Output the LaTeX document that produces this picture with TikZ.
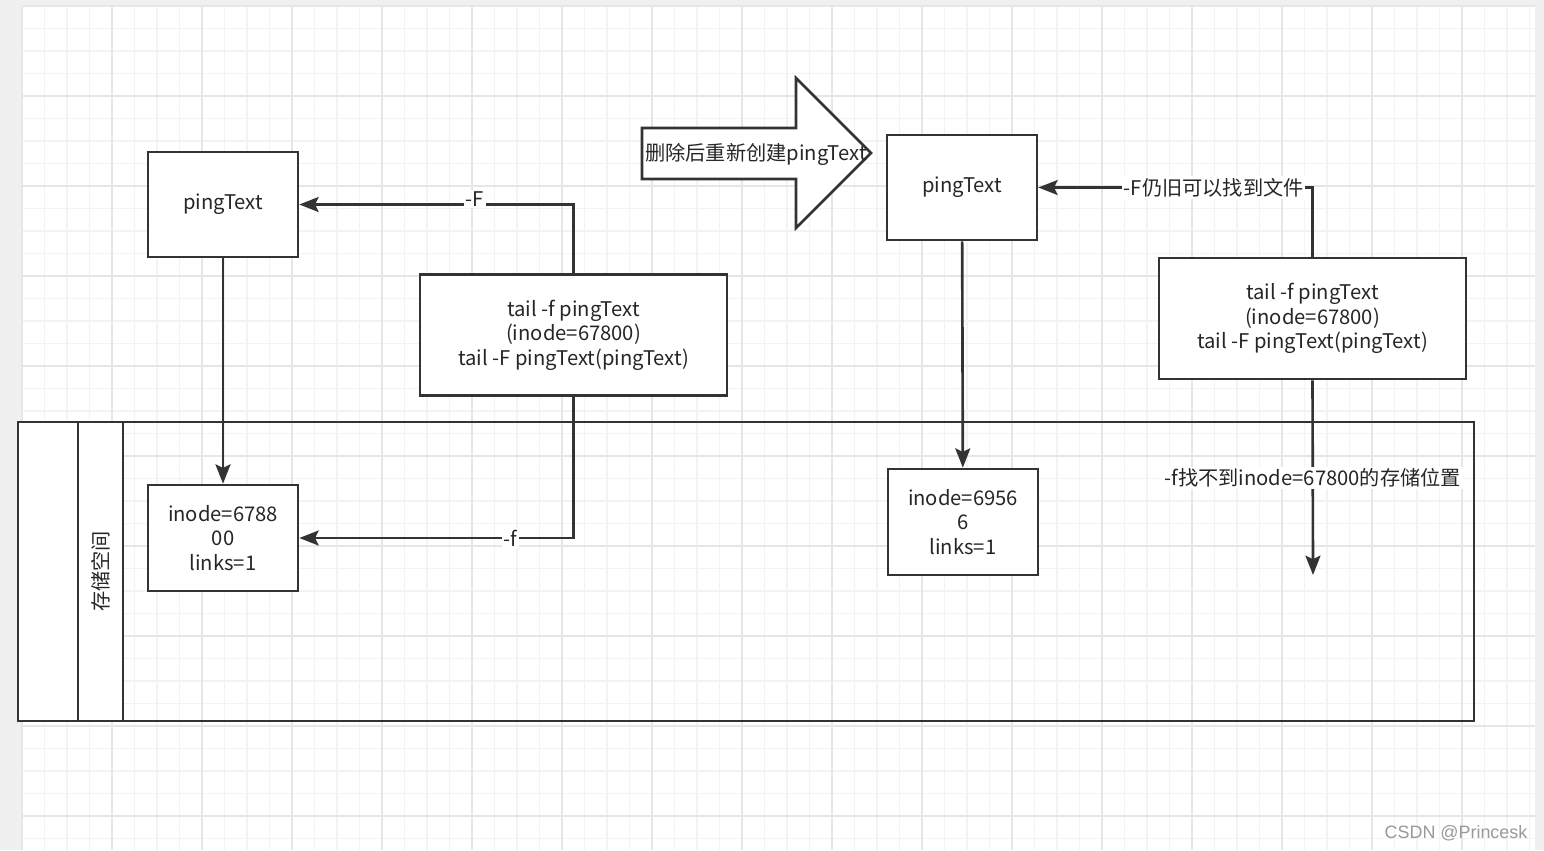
\documentclass[tikz,border=0pt]{standalone}
\usepackage{fontspec}
\setmainfont{Noto Sans CJK SC}
\newfontfamily\wmfont{Liberation Sans}
\usepackage{tikz}
\usetikzlibrary{arrows.meta}

\definecolor{linegray}{HTML}{333333}
\definecolor{outergray}{HTML}{F0F0F0}
\definecolor{minorgrid}{HTML}{F3F3F3}
\definecolor{majorgrid}{HTML}{E6E6E6}

\begin{document}
\begin{tikzpicture}[x=0.02cm, y=-0.02cm,
		every node/.style={font=\fontsize{11.5}{14}\selectfont, text=black!85},
		box/.style={draw=linegray, line width=1.5pt, fill=white, align=center, minimum width=3cm, minimum height=2.1cm},
		cmdbox/.style={box, minimum width=6.14cm, minimum height=2.42cm},
		conn/.style={draw=linegray, line width=1.5pt, -{Stealth[length=11pt, width=8.5pt, inset=2pt]}},
		lbl/.style={fill=white, inner sep=1pt}]
			\useasboundingbox (0,0) rectangle (1544,850);
			\fill[outergray] (0,0) rectangle (1544,850);
			\fill[white] (22,6) rectangle (1535,850);
			% grid
			\foreach \i in {0,...,67}
				\draw[minorgrid, line width=0.7pt] ({22+22.5*\i},6) -- ({22+22.5*\i},850);
			\foreach \j in {0,...,37}
				\draw[minorgrid, line width=0.7pt] (22,{6+22.5*\j}) -- (1535,{6+22.5*\j});
			\foreach \i in {0,...,16}
				\draw[majorgrid, line width=0.7pt] ({22+90*\i},6) -- ({22+90*\i},850);
			\foreach \j in {0,...,9}
				\draw[majorgrid, line width=0.7pt] (22,{6+90*\j}) -- (1535,{6+90*\j});

			% storage pool
			\draw[linegray, line width=1.5pt] (18,422) rectangle (1474,721);
			\filldraw[fill=white, draw=linegray, line width=1.5pt] (18,422) rectangle (78,721);
			\filldraw[fill=white, draw=linegray, line width=1.5pt] (78,422) rectangle (123,721);
			\node[rotate=90] (lane) at (100.5,571.5) {存储空间};

			% before
			\node[box] (ping1) at (223,204.5) {pingText};
			\node[cmdbox] (tail1) at (573.5,335) {tail -f pingText\\(inode=67800)\\tail -F pingText(pingText)};
			\node[box, minimum height=2.12cm] (inode1) at (223,538) {inode=6788\\00\\links=1};

			% rebuild arrow
			\filldraw[fill=white, draw=linegray, line width=1.5pt, line join=miter]
				(642,128) -- (796,128) -- (796,78) -- (871,153) -- (796,228) -- (796,179) -- (642,179) -- cycle;
			\node (rebuild) at (756,154) {删除后重新创建pingText};

			% after
			\node[box] (ping2) at (962,187.5) {pingText};
			\node[cmdbox] (tail2) at (1312.5,318.5) {tail -f pingText\\(inode=67800)\\tail -F pingText(pingText)};
			\node[box, minimum height=2.12cm] (inode2) at (963,522) {inode=6956\\6\\links=1};
			\coordinate (lost) at (1313,575);

			\draw[conn] (ping1) -- (inode1);
			\draw[conn] (tail1.north) |- node[lbl, pos=0.68, yshift=3pt] {-F} (ping1.east);
			\draw[conn] (tail1.south) |- node[lbl, pos=0.615] {-f} (inode1.east);
			\draw[conn] (ping2) -- (inode2);
			\draw[conn] (tail2.north) |- node[lbl, pos=0.68] {-F仍旧可以找到文件} (ping2.east);
			\draw[conn] (tail2.south) -- node[lbl, pos=0.5] {-f找不到inode=67800的存储位置} (lost);

			\node[font=\wmfont\fontsize{10.2}{12}\selectfont, text=black!40] (mark) at (1456,833) {CSDN @Princesk};
		\end{tikzpicture}
\end{document}
